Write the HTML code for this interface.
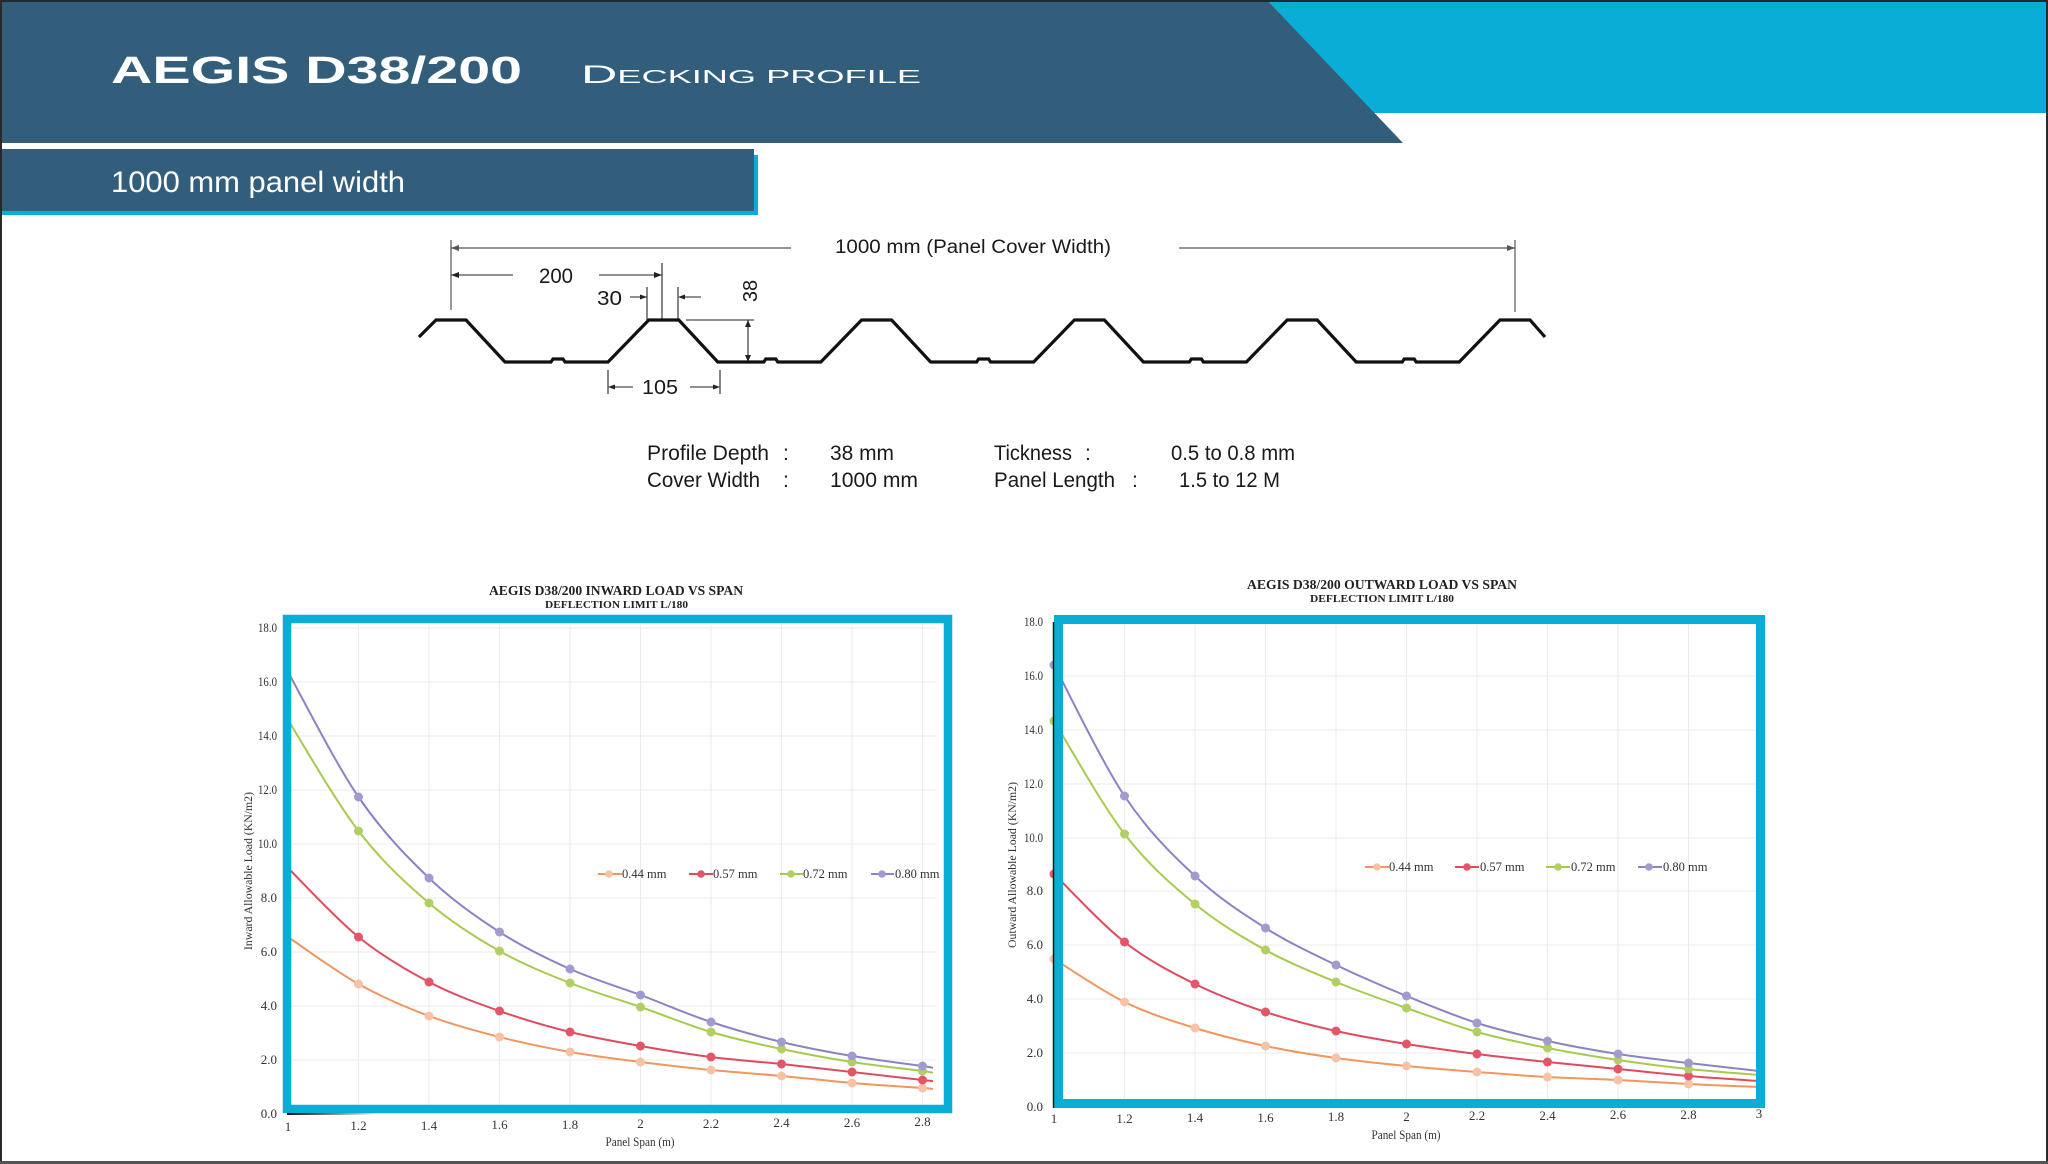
<!DOCTYPE html>
<html><head><meta charset="utf-8"><style>
html,body{margin:0;padding:0;background:#fff;}
body{width:2048px;height:1164px;overflow:hidden;}
svg{display:block;}
.tk{font-family:"Liberation Serif",serif;font-size:13px;fill:#333;}
.lg{font-family:"Liberation Serif",serif;font-size:12.5px;fill:#333;}
.sp{font-family:"Liberation Sans",sans-serif;font-size:21px;fill:#1a1a1a;}
</style></head><body>
<svg width="2048" height="1164" viewBox="0 0 2048 1164" xmlns="http://www.w3.org/2000/svg">
<rect x="0" y="0" width="2048" height="1164" fill="#fff"/>
<!-- header -->
<polygon points="1267,0 2048,0 2048,113 1374,113" fill="#0aadd6"/>
<polygon points="0,0 1267,0 1403,143 0,143" fill="#325e7c"/>
<text x="111" y="83" font-family="Liberation Sans, sans-serif" font-weight="bold" font-size="38" fill="#fff" textLength="411" lengthAdjust="spacingAndGlyphs">AEGIS D38/200</text>
<text x="581" y="83" font-family="Liberation Sans, sans-serif" font-size="18" fill="#fff" textLength="340" lengthAdjust="spacingAndGlyphs"><tspan font-size="25">D</tspan>ECKING PROFILE</text>
<!-- subtitle band -->
<rect x="0" y="155" width="758" height="60" fill="#0aadd6"/>
<rect x="0" y="149" width="754" height="62" fill="#325e7c"/>
<text x="111" y="192" font-family="Liberation Sans, sans-serif" font-size="30" fill="#fff" textLength="294" lengthAdjust="spacingAndGlyphs">1000 mm panel width</text>

<!-- profile drawing -->
<g stroke="#555" stroke-width="1.2" fill="none">
<line x1="451" y1="248" x2="791" y2="248"/>
<line x1="1179" y1="248" x2="1515" y2="248"/>
<line x1="451" y1="240" x2="451" y2="310"/>
<line x1="1515" y1="240" x2="1515" y2="312"/>
</g>
<g fill="#555"><polygon points="451,248 459,245 459,251"/><polygon points="1515,248 1507,245 1507,251"/></g>
<text x="835" y="253" font-family="Liberation Sans, sans-serif" font-size="19" fill="#1a1a1a" textLength="276" lengthAdjust="spacingAndGlyphs">1000 mm (Panel Cover Width)</text>

<g stroke="#222" stroke-width="1.1" fill="none">
<line x1="451" y1="275" x2="513" y2="275"/>
<line x1="599" y1="275" x2="662" y2="275"/>
<line x1="662" y1="263" x2="662" y2="320"/>
<line x1="630" y1="297" x2="647" y2="297"/>
<line x1="647" y1="287" x2="647" y2="320"/>
<line x1="678" y1="287" x2="678" y2="320"/>
<line x1="680" y1="297" x2="701" y2="297"/>
<line x1="686" y1="320" x2="754" y2="320"/>
<line x1="748" y1="320" x2="748" y2="362"/>
<line x1="608" y1="370" x2="608" y2="394"/>
<line x1="720" y1="370" x2="720" y2="394"/>
<line x1="611" y1="387" x2="633" y2="387"/>
<line x1="690" y1="387" x2="718" y2="387"/>
</g>
<g fill="#222">
<polygon points="451,275 459,272 459,278"/>
<polygon points="662,275 654,272 654,278"/>
<polygon points="647,297 640,294.5 640,299.5"/>
<polygon points="678,297 685,294.5 685,299.5"/>
<polygon points="748,320 745,327 751,327"/>
<polygon points="748,362 745,355 751,355"/>
<polygon points="608,387 615,384.5 615,389.5"/>
<polygon points="720,387 713,384.5 713,389.5"/>
</g>
<text x="539" y="283" font-family="Liberation Sans, sans-serif" font-size="21" fill="#1a1a1a" textLength="34" lengthAdjust="spacingAndGlyphs">200</text>
<text x="597" y="305" font-family="Liberation Sans, sans-serif" font-size="20" fill="#1a1a1a" textLength="25" lengthAdjust="spacingAndGlyphs">30</text>
<text transform="translate(750,291) rotate(-90)" x="0" y="7" text-anchor="middle" font-family="Liberation Sans, sans-serif" font-size="20" fill="#1a1a1a">38</text>
<text x="642" y="394" font-family="Liberation Sans, sans-serif" font-size="20" fill="#1a1a1a" textLength="36" lengthAdjust="spacingAndGlyphs">105</text>

<path d="M419,337 L436,320 L466,320 L505,362 L551,362 L553,359 L563,359 L565,362 L608,362 L648.8,320 L678.8,320 L717.8,362 L763.8,362 L765.8,359 L775.8,359 L777.8,362 L820.8,362 L861.6,320 L891.6,320 L930.6,362 L976.6,362 L978.6,359 L988.6,359 L990.6,362 L1033.6,362 L1074.4,320 L1104.4,320 L1143.4,362 L1189.4,362 L1191.4,359 L1201.4,359 L1203.4,362 L1246.4,362 L1287.2,320 L1317.2,320 L1356.2,362 L1402.2,362 L1404.2,359 L1414.2,359 L1416.2,362 L1459.2,362 L1500,320 L1530,320 L1545,337" fill="none" stroke="#111" stroke-width="3.2" stroke-linejoin="miter"/>

<!-- spec text -->
<text class="sp" x="647" y="460" textLength="122" lengthAdjust="spacingAndGlyphs">Profile Depth</text>
<text class="sp" x="783" y="460">:</text>
<text class="sp" x="830" y="460" textLength="64" lengthAdjust="spacingAndGlyphs">38 mm</text>
<text class="sp" x="994" y="460" textLength="78" lengthAdjust="spacingAndGlyphs">Tickness</text>
<text class="sp" x="1085" y="460">:</text>
<text class="sp" x="1171" y="460" textLength="124" lengthAdjust="spacingAndGlyphs">0.5 to 0.8 mm</text>
<text class="sp" x="647" y="487" textLength="113" lengthAdjust="spacingAndGlyphs">Cover Width</text>
<text class="sp" x="783" y="487">:</text>
<text class="sp" x="830" y="487" textLength="88" lengthAdjust="spacingAndGlyphs">1000 mm</text>
<text class="sp" x="994" y="487" textLength="121" lengthAdjust="spacingAndGlyphs">Panel Length</text>
<text class="sp" x="1132" y="487">:</text>
<text class="sp" x="1179" y="487" textLength="101" lengthAdjust="spacingAndGlyphs">1.5 to 12 M</text>

<!-- ============ LEFT CHART ============ -->
<text x="489" y="595" font-family="Liberation Serif, serif" font-weight="bold" font-size="14" fill="#222" textLength="254" lengthAdjust="spacingAndGlyphs">AEGIS D38/200 INWARD LOAD VS SPAN</text>
<text x="545" y="608" font-family="Liberation Serif, serif" font-weight="bold" font-size="10.5" fill="#222" textLength="143" lengthAdjust="spacingAndGlyphs">DEFLECTION LIMIT L/180</text>
<g stroke="#ebebeb" stroke-width="1">
<line x1="358.5" y1="625" x2="358.5" y2="1105"/><line x1="429" y1="625" x2="429" y2="1105"/><line x1="499.5" y1="625" x2="499.5" y2="1105"/><line x1="570" y1="625" x2="570" y2="1105"/><line x1="640.5" y1="625" x2="640.5" y2="1105"/><line x1="711" y1="625" x2="711" y2="1105"/><line x1="781.5" y1="625" x2="781.5" y2="1105"/><line x1="852" y1="625" x2="852" y2="1105"/><line x1="922.5" y1="625" x2="922.5" y2="1105"/>
<line x1="291" y1="628" x2="936" y2="628"/><line x1="291" y1="682" x2="936" y2="682"/><line x1="291" y1="736" x2="936" y2="736"/><line x1="291" y1="790" x2="936" y2="790"/><line x1="291" y1="844" x2="936" y2="844"/><line x1="291" y1="898" x2="936" y2="898"/><line x1="291" y1="952" x2="936" y2="952"/><line x1="291" y1="1006" x2="936" y2="1006"/><line x1="291" y1="1060" x2="936" y2="1060"/>
</g>
<g fill="none" stroke-width="2" stroke-linejoin="round">
<polyline class="s" stroke="#f0965e" points="288,937 358.5,984 429,1016 499.5,1037 570,1052 640.5,1062 711,1070 781.5,1076 852,1083 922.5,1088 933,1089"/>
<polyline class="s" stroke="#e04a5f" points="288,868 358.5,937 429,982 499.5,1011 570,1032 640.5,1046 711,1057 781.5,1064 852,1072 922.5,1080 933,1081"/>
<polyline class="s" stroke="#a8ca4e" points="288,720 358.5,831 429,903 499.5,951 570,983 640.5,1007 711,1032 781.5,1049 852,1062 922.5,1071 933,1073"/>
<polyline class="s" stroke="#8a83c4" points="288,672 358.5,797 429,878 499.5,932 570,969 640.5,995 711,1022 781.5,1042 852,1056 922.5,1066 933,1068"/>
</g>
<g fill="#f7c3a6"><circle cx="358.5" cy="984" r="4.5"/><circle cx="429" cy="1016" r="4.5"/><circle cx="499.5" cy="1037" r="4.5"/><circle cx="570" cy="1052" r="4.5"/><circle cx="640.5" cy="1062" r="4.5"/><circle cx="711" cy="1070" r="4.5"/><circle cx="781.5" cy="1076" r="4.5"/><circle cx="852" cy="1083" r="4.5"/><circle cx="922.5" cy="1088" r="4.5"/></g>
<g fill="#e2566a"><circle cx="358.5" cy="937" r="4.5"/><circle cx="429" cy="982" r="4.5"/><circle cx="499.5" cy="1011" r="4.5"/><circle cx="570" cy="1032" r="4.5"/><circle cx="640.5" cy="1046" r="4.5"/><circle cx="711" cy="1057" r="4.5"/><circle cx="781.5" cy="1064" r="4.5"/><circle cx="852" cy="1072" r="4.5"/><circle cx="922.5" cy="1080" r="4.5"/></g>
<g fill="#b2cf63"><circle cx="358.5" cy="831" r="4.5"/><circle cx="429" cy="903" r="4.5"/><circle cx="499.5" cy="951" r="4.5"/><circle cx="570" cy="983" r="4.5"/><circle cx="640.5" cy="1007" r="4.5"/><circle cx="711" cy="1032" r="4.5"/><circle cx="781.5" cy="1049" r="4.5"/><circle cx="852" cy="1062" r="4.5"/><circle cx="922.5" cy="1071" r="4.5"/></g>
<g fill="#a29bd0"><circle cx="358.5" cy="797" r="4.5"/><circle cx="429" cy="878" r="4.5"/><circle cx="499.5" cy="932" r="4.5"/><circle cx="570" cy="969" r="4.5"/><circle cx="640.5" cy="995" r="4.5"/><circle cx="711" cy="1022" r="4.5"/><circle cx="781.5" cy="1042" r="4.5"/><circle cx="852" cy="1056" r="4.5"/><circle cx="922.5" cy="1066" r="4.5"/></g>
<!-- legend left -->
<g stroke-width="2">
<line x1="598" y1="874" x2="622" y2="874" stroke="#f0965e"/><line x1="689" y1="874" x2="713" y2="874" stroke="#e04a5f"/><line x1="780" y1="874" x2="803" y2="874" stroke="#a8ca4e"/><line x1="871" y1="874" x2="894" y2="874" stroke="#8a83c4"/>
</g>
<circle cx="609" cy="874" r="3.8" fill="#f7c3a6"/><circle cx="701" cy="874" r="3.8" fill="#e2566a"/><circle cx="791" cy="874" r="3.8" fill="#b2cf63"/><circle cx="882" cy="874" r="3.8" fill="#a29bd0"/>
<text class="lg" x="622" y="878">0.44 mm</text><text class="lg" x="713" y="878">0.57 mm</text><text class="lg" x="803" y="878">0.72 mm</text><text class="lg" x="895" y="878">0.80 mm</text>
<rect x="287" y="619" width="661" height="490" fill="none" stroke="#0aadd6" stroke-width="8.5"/>
<defs><linearGradient id="fadeL" x1="0" x2="1" y1="0" y2="0"><stop offset="0" stop-color="#111"/><stop offset="1" stop-color="#111" stop-opacity="0"/></linearGradient></defs>
<rect x="287" y="1113" width="90" height="2" fill="url(#fadeL)"/>
<g class="tk" text-anchor="end">
<text x="277" y="632" textLength="19" lengthAdjust="spacingAndGlyphs">18.0</text><text x="277" y="686" textLength="19" lengthAdjust="spacingAndGlyphs">16.0</text><text x="277" y="740" textLength="19" lengthAdjust="spacingAndGlyphs">14.0</text><text x="277" y="794" textLength="19" lengthAdjust="spacingAndGlyphs">12.0</text><text x="277" y="848" textLength="19" lengthAdjust="spacingAndGlyphs">10.0</text><text x="277" y="902">8.0</text><text x="277" y="956">6.0</text><text x="277" y="1010">4.0</text><text x="277" y="1064">2.0</text><text x="277" y="1118">0.0</text>
</g>
<g class="tk" text-anchor="middle">
<text x="288" y="1131">1</text><text x="358.5" y="1130">1.2</text><text x="429" y="1130">1.4</text><text x="499.5" y="1129">1.6</text><text x="570" y="1129">1.8</text><text x="640.5" y="1128">2</text><text x="711" y="1128">2.2</text><text x="781.5" y="1127">2.4</text><text x="852" y="1127">2.6</text><text x="922.5" y="1126">2.8</text>
<text x="640" y="1146" textLength="69" lengthAdjust="spacingAndGlyphs">Panel Span (m)</text>
</g>
<text transform="translate(248,871) rotate(-90)" x="0" y="4" text-anchor="middle" font-family="Liberation Serif, serif" font-size="12" fill="#333" textLength="158" lengthAdjust="spacingAndGlyphs">Inward Allowable Load (KN/m2)</text>

<!-- ============ RIGHT CHART ============ -->
<text x="1247" y="589" font-family="Liberation Serif, serif" font-weight="bold" font-size="14" fill="#222" textLength="270" lengthAdjust="spacingAndGlyphs">AEGIS D38/200 OUTWARD LOAD VS SPAN</text>
<text x="1310" y="602" font-family="Liberation Serif, serif" font-weight="bold" font-size="10.5" fill="#222" textLength="144" lengthAdjust="spacingAndGlyphs">DEFLECTION LIMIT L/180</text>
<g stroke="#ebebeb" stroke-width="1">
<line x1="1124.5" y1="622" x2="1124.5" y2="1100"/><line x1="1195" y1="622" x2="1195" y2="1100"/><line x1="1265.5" y1="622" x2="1265.5" y2="1100"/><line x1="1336" y1="622" x2="1336" y2="1100"/><line x1="1406.5" y1="622" x2="1406.5" y2="1100"/><line x1="1477" y1="622" x2="1477" y2="1100"/><line x1="1547.5" y1="622" x2="1547.5" y2="1100"/><line x1="1618" y1="622" x2="1618" y2="1100"/><line x1="1688.5" y1="622" x2="1688.5" y2="1100"/>
<line x1="1064" y1="622" x2="1756" y2="622"/><line x1="1064" y1="676" x2="1756" y2="676"/><line x1="1064" y1="730" x2="1756" y2="730"/><line x1="1064" y1="784" x2="1756" y2="784"/><line x1="1064" y1="838" x2="1756" y2="838"/><line x1="1064" y1="891" x2="1756" y2="891"/><line x1="1064" y1="945" x2="1756" y2="945"/><line x1="1064" y1="999" x2="1756" y2="999"/><line x1="1064" y1="1053" x2="1756" y2="1053"/>
</g>
<g fill="none" stroke-width="2" stroke-linejoin="round">
<polyline class="s" stroke="#f0965e" points="1054,959 1124.5,1002 1195,1028 1265.5,1046 1336,1058 1406.5,1066 1477,1072 1547.5,1077 1618,1080 1688.5,1084 1759,1087"/>
<polyline class="s" stroke="#e04a5f" points="1054,874 1124.5,942 1195,984 1265.5,1012 1336,1031 1406.5,1044 1477,1054 1547.5,1062 1618,1069 1688.5,1076 1759,1081"/>
<polyline class="s" stroke="#a8ca4e" points="1054,721 1124.5,834 1195,904 1265.5,950 1336,982 1406.5,1008 1477,1032 1547.5,1048 1618,1060 1688.5,1069 1759,1075"/>
<polyline class="s" stroke="#8a83c4" points="1054,665 1124.5,796 1195,876 1265.5,928 1336,965 1406.5,996 1477,1023 1547.5,1041 1618,1054 1688.5,1063 1759,1071"/>
</g>
<g fill="#f7c3a6"><circle cx="1054" cy="959" r="4.5"/><circle cx="1124.5" cy="1002" r="4.5"/><circle cx="1195" cy="1028" r="4.5"/><circle cx="1265.5" cy="1046" r="4.5"/><circle cx="1336" cy="1058" r="4.5"/><circle cx="1406.5" cy="1066" r="4.5"/><circle cx="1477" cy="1072" r="4.5"/><circle cx="1547.5" cy="1077" r="4.5"/><circle cx="1618" cy="1080" r="4.5"/><circle cx="1688.5" cy="1084" r="4.5"/></g>
<g fill="#e2566a"><circle cx="1054" cy="874" r="4.5"/><circle cx="1124.5" cy="942" r="4.5"/><circle cx="1195" cy="984" r="4.5"/><circle cx="1265.5" cy="1012" r="4.5"/><circle cx="1336" cy="1031" r="4.5"/><circle cx="1406.5" cy="1044" r="4.5"/><circle cx="1477" cy="1054" r="4.5"/><circle cx="1547.5" cy="1062" r="4.5"/><circle cx="1618" cy="1069" r="4.5"/><circle cx="1688.5" cy="1076" r="4.5"/></g>
<g fill="#b2cf63"><circle cx="1054" cy="721" r="4.5"/><circle cx="1124.5" cy="834" r="4.5"/><circle cx="1195" cy="904" r="4.5"/><circle cx="1265.5" cy="950" r="4.5"/><circle cx="1336" cy="982" r="4.5"/><circle cx="1406.5" cy="1008" r="4.5"/><circle cx="1477" cy="1032" r="4.5"/><circle cx="1547.5" cy="1048" r="4.5"/><circle cx="1618" cy="1060" r="4.5"/><circle cx="1688.5" cy="1069" r="4.5"/></g>
<g fill="#a29bd0"><circle cx="1054" cy="665" r="4.5"/><circle cx="1124.5" cy="796" r="4.5"/><circle cx="1195" cy="876" r="4.5"/><circle cx="1265.5" cy="928" r="4.5"/><circle cx="1336" cy="965" r="4.5"/><circle cx="1406.5" cy="996" r="4.5"/><circle cx="1477" cy="1023" r="4.5"/><circle cx="1547.5" cy="1041" r="4.5"/><circle cx="1618" cy="1054" r="4.5"/><circle cx="1688.5" cy="1063" r="4.5"/></g>
<!-- legend right -->
<g stroke-width="2">
<line x1="1365" y1="867" x2="1389" y2="867" stroke="#f0965e"/><line x1="1455" y1="867" x2="1479" y2="867" stroke="#e04a5f"/><line x1="1546" y1="867" x2="1570" y2="867" stroke="#a8ca4e"/><line x1="1638" y1="867" x2="1662" y2="867" stroke="#8a83c4"/>
</g>
<circle cx="1377" cy="867" r="3.8" fill="#f7c3a6"/><circle cx="1467" cy="867" r="3.8" fill="#e2566a"/><circle cx="1558" cy="867" r="3.8" fill="#b2cf63"/><circle cx="1649" cy="867" r="3.8" fill="#a29bd0"/>
<text class="lg" x="1389" y="871">0.44 mm</text><text class="lg" x="1480" y="871">0.57 mm</text><text class="lg" x="1571" y="871">0.72 mm</text><text class="lg" x="1663" y="871">0.80 mm</text>
<rect x="1058.5" y="619.5" width="702" height="484" fill="none" stroke="#0aadd6" stroke-width="9"/>
<line x1="1053.5" y1="622" x2="1053.5" y2="1108" stroke="#1a1a1a" stroke-width="1.5"/>
<g class="tk" text-anchor="end">
<text x="1043" y="626" textLength="19" lengthAdjust="spacingAndGlyphs">18.0</text><text x="1043" y="680" textLength="19" lengthAdjust="spacingAndGlyphs">16.0</text><text x="1043" y="734" textLength="19" lengthAdjust="spacingAndGlyphs">14.0</text><text x="1043" y="788" textLength="19" lengthAdjust="spacingAndGlyphs">12.0</text><text x="1043" y="842" textLength="19" lengthAdjust="spacingAndGlyphs">10.0</text><text x="1043" y="895">8.0</text><text x="1043" y="949">6.0</text><text x="1043" y="1003">4.0</text><text x="1043" y="1057">2.0</text><text x="1043" y="1111">0.0</text>
</g>
<g class="tk" text-anchor="middle">
<text x="1054" y="1123">1</text><text x="1124.5" y="1123">1.2</text><text x="1195" y="1122">1.4</text><text x="1265.5" y="1122">1.6</text><text x="1336" y="1121">1.8</text><text x="1406.5" y="1121">2</text><text x="1477" y="1120">2.2</text><text x="1547.5" y="1120">2.4</text><text x="1618" y="1119">2.6</text><text x="1688.5" y="1119">2.8</text><text x="1759" y="1118">3</text>
<text x="1406" y="1139" textLength="69" lengthAdjust="spacingAndGlyphs">Panel Span (m)</text>
</g>
<text transform="translate(1012,865) rotate(-90)" x="0" y="4" text-anchor="middle" font-family="Liberation Serif, serif" font-size="12" fill="#333" textLength="166" lengthAdjust="spacingAndGlyphs">Outward Allowable Load (KN/m2)</text>

<!-- page border -->
<line x1="0" y1="1" x2="2048" y2="1" stroke="#1e2a33" stroke-width="2"/>
<line x1="1" y1="0" x2="1" y2="1164" stroke="#2a2a2a" stroke-width="2"/>
<line x1="2047" y1="0" x2="2047" y2="1164" stroke="#2a2a2a" stroke-width="2"/>
<line x1="0" y1="1162.5" x2="2048" y2="1162.5" stroke="#555" stroke-width="3"/>
</svg>
<script>
(function(){
var NS='http://www.w3.org/2000/svg';
var pls=document.querySelectorAll('polyline.s');
for(var k=0;k<pls.length;k++){
 var pl=pls[k];
 var pts=pl.getAttribute('points').trim().split(/\s+/).map(function(p){var a=p.split(',');return [+a[0],+a[1]];});
 var d='M'+pts[0][0]+','+pts[0][1];
 for(var i=0;i<pts.length-1;i++){
  var p0=pts[i-1]||pts[i],p1=pts[i],p2=pts[i+1],p3=pts[i+2]||p2;
  var c1x=p1[0]+(p2[0]-p0[0])/6,c1y=p1[1]+(p2[1]-p0[1])/6;
  var c2x=p2[0]-(p3[0]-p1[0])/6,c2y=p2[1]-(p3[1]-p1[1])/6;
  d+=' C'+c1x.toFixed(1)+','+c1y.toFixed(1)+' '+c2x.toFixed(1)+','+c2y.toFixed(1)+' '+p2[0]+','+p2[1];
 }
 var path=document.createElementNS(NS,'path');
 path.setAttribute('d',d);
 path.setAttribute('stroke',pl.getAttribute('stroke'));
 path.setAttribute('fill','none');
 pl.parentNode.replaceChild(path,pl);
}
})();
</script>
</body></html>
